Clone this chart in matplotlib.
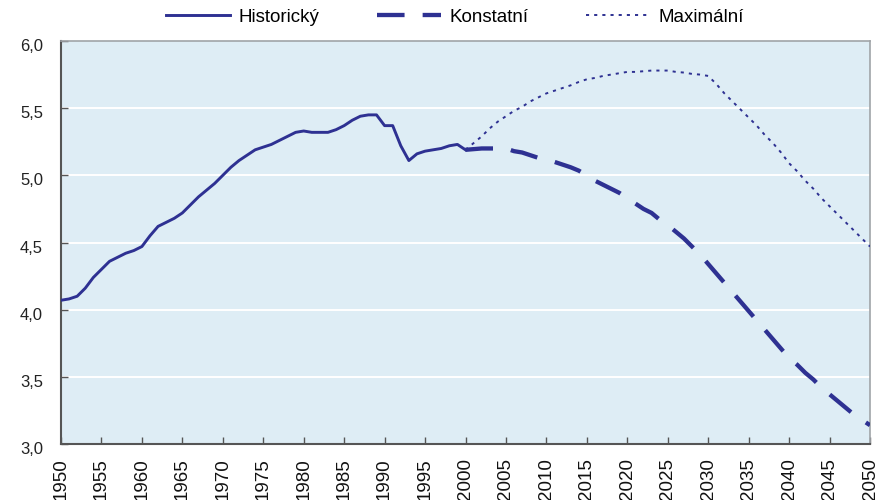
import matplotlib
matplotlib.use("Agg")
import matplotlib.pyplot as plt
import matplotlib.transforms as mtransforms
from matplotlib.ticker import FixedLocator

plt.rcParams['font.family'] = ['Liberation Sans', 'DejaVu Sans']

hist_years = list(range(1950, 2001))
hist_values = [4.07, 4.08, 4.10, 4.16, 4.24, 4.30, 4.36, 4.39, 4.42, 4.44,
               4.47, 4.55, 4.62, 4.65, 4.68, 4.72, 4.78, 4.84, 4.89, 4.94,
               5.00, 5.06, 5.11, 5.15, 5.19, 5.21, 5.23, 5.26, 5.29, 5.32,
               5.33, 5.32, 5.32, 5.32, 5.34, 5.37, 5.41, 5.44, 5.45, 5.45,
               5.37, 5.37, 5.22, 5.11, 5.16, 5.18, 5.19, 5.20, 5.22, 5.23,
               5.19]

proj_years = list(range(2000, 2051))
konst_values = [5.19, 5.195, 5.20, 5.20, 5.20, 5.20, 5.18, 5.17, 5.15, 5.13,
                5.115, 5.10, 5.08, 5.06, 5.035, 5.00, 4.96, 4.93, 4.90, 4.87,
                4.83, 4.79, 4.75, 4.72, 4.67, 4.63, 4.58, 4.53, 4.47, 4.41,
                4.34, 4.27, 4.20, 4.13, 4.06, 3.99, 3.92, 3.85, 3.78, 3.71,
                3.64, 3.59, 3.53, 3.48, 3.42, 3.37, 3.32, 3.27, 3.22, 3.18,
                3.14]
max_values = [5.19, 5.24, 5.29, 5.35, 5.40, 5.44, 5.48, 5.51, 5.55, 5.58,
              5.61, 5.63, 5.65, 5.67, 5.695, 5.715, 5.725, 5.74, 5.75, 5.76,
              5.77, 5.77, 5.775, 5.78, 5.78, 5.78, 5.77, 5.765, 5.755, 5.75,
              5.74, 5.68, 5.61, 5.55, 5.49, 5.43, 5.37, 5.30, 5.24, 5.17,
              5.09, 5.03, 4.96, 4.90, 4.83, 4.77, 4.71, 4.65, 4.59, 4.53,
              4.47]

series_labels = ["Historický", "Konstatní", "Maximální"]
x_ticks = list(range(1950, 2051, 5))
y_ticks = [3.0, 3.5, 4.0, 4.5, 5.0, 5.5, 6.0]
y_tick_labels = ["3,0", "3,5", "4,0", "4,5", "5,0", "5,5", "6,0"]

line_color = "#2e3192"
bg = "#deedf5"

fig = plt.figure(figsize=(8.78, 5.0), dpi=100)
ax = fig.add_axes([61/878, 1-444/500, (870-61)/878, (444-41)/500])
ax.set_facecolor(bg)

l1, = ax.plot(hist_years, hist_values, color=line_color, lw=2.1,
              solid_joinstyle='round', label=series_labels[0], zorder=3)
l2, = ax.plot(proj_years, konst_values, color=line_color, lw=3.1,
              linestyle=(0, (6.4, 4.2)), dash_capstyle='butt',
              label=series_labels[1], zorder=3)
l3, = ax.plot(proj_years, max_values, color=line_color, lw=1.4,
              linestyle=(0, (1.6, 2.6)), dash_capstyle='butt',
              label=series_labels[2], zorder=3)

ax.set_xlim(1950, 2050)
ax.set_ylim(3.0, 6.0)
ax.xaxis.set_major_locator(FixedLocator(x_ticks))
ax.set_xticklabels([str(y) for y in x_ticks], rotation=90, fontsize=13.5)
ax.set_yticks(y_ticks)
ax.set_yticklabels(y_tick_labels, fontsize=12)

for y in y_ticks[1:-1]:
    ax.axhline(y, color='white', lw=1.4, zorder=1)

ax.tick_params(axis='x', direction='in', length=5, width=1.0, color='#555555',
               pad=10, labelcolor='#111111')
ax.tick_params(axis='y', direction='in', length=5, width=1.0, color='#555555',
               pad=13, labelcolor='#222222')

offset = mtransforms.ScaledTranslation(0, -4/100, fig.dpi_scale_trans)
for lab in ax.get_yticklabels():
    lab.set_transform(lab.get_transform() + offset)

for s in ['left', 'bottom']:
    ax.spines[s].set_color('#555555')
    ax.spines[s].set_linewidth(1.5)
for s in ['top', 'right']:
    ax.spines[s].set_color('#a0a4a8')
    ax.spines[s].set_linewidth(1.2)

leg = fig.legend(handles=[l1, l2, l3], labels=series_labels, loc='center',
                 bbox_to_anchor=(455/878, 1-17/500), ncol=3, frameon=False,
                 fontsize=13.5, handlelength=3.4, handletextpad=0.45,
                 columnspacing=3.1, borderaxespad=0)

fig.savefig("out.png", dpi=100)
